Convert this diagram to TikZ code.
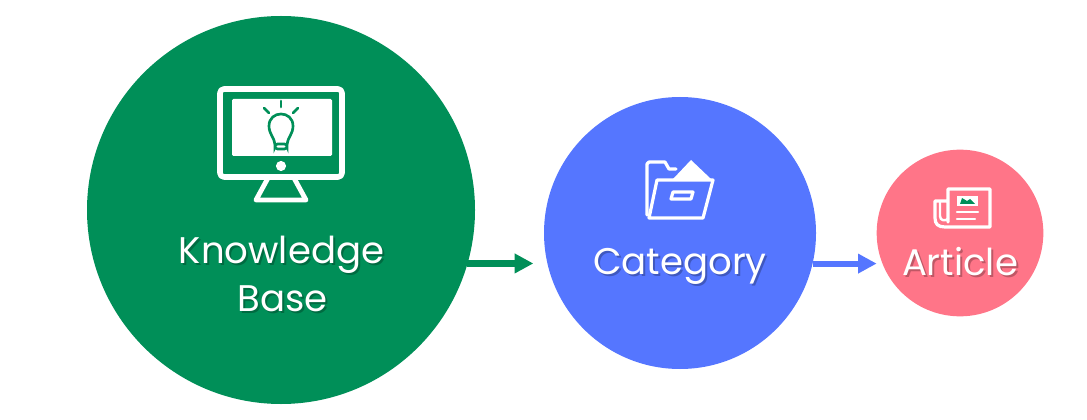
\documentclass[tikz,border=0pt]{standalone}
\usepackage{fontspec}
\setmainfont{Poppins}
\usepackage{xcolor}
\usetikzlibrary{arrows.meta}
\definecolor{kbgreen}{HTML}{008F58}
\definecolor{catblue}{HTML}{5576FF}
\definecolor{artpink}{HTML}{FF7588}
\tikzset{
 blob/.style={circle, inner sep=0pt, outer sep=0pt},
 label/.style={text=white, font=\fontsize{27.8}{28}\selectfont, inner sep=0pt, anchor=base},
 labelshade/.style={text=black, opacity=.25, font=\fontsize{27.8}{28}\selectfont, inner sep=0pt, anchor=base},
 flow/.style={line width=4.6pt, -{Triangle[length=14pt,width=14pt]}},
 icon/.style={draw=white, line width=4.2pt, line join=round},
 thinicon/.style={draw=white, line width=2.4pt, line join=round, line cap=round},
}
\begin{document}
\begin{tikzpicture}[x=.75pt, y=-.75pt]
\useasboundingbox (0,0) rectangle (1087,420);

\node(kb)[blob, fill=kbgreen, minimum size=291pt] at (281,210) {};
\node(cat)[blob, fill=catblue, minimum size=204pt] at (680,233) {};
\node(art)[blob, fill=artpink, minimum size=125pt] at (960,233) {};

\draw[flow, kbgreen] (kb.-16.1) -- ([xshift=-8pt]kb.-16.1 -| cat.west);
\draw[flow, catblue] (cat.-13.2) -- (cat.-13.2 -| art.west);

% monitor
\draw[icon, rounded corners=3pt] (220,89) rectangle (342,177);
\fill[white, rounded corners=1pt] (232,99) rectangle (332,156);
\fill[white] (281,166) circle (3.8pt);
\draw[icon, line width=3.6pt] (268,178) -- (256,200) -- (306,200) -- (294,178);
% bulb
\draw[kbgreen, line width=2pt, line cap=round, line join=round] (275,144) .. controls (274,137) and (269,134) .. (269,126) .. controls (269,110) and (293,110) .. (293,126) .. controls (293,134) and (288,137) .. (287,144);
\draw[kbgreen, line width=2pt, rounded corners=2pt] (275,144) rectangle (287,149);
\draw[kbgreen, line width=2pt, line cap=round] (281,101) -- (281,107);
\draw[kbgreen, line width=2pt, line cap=round] (264,108) -- (269,113);
\draw[kbgreen, line width=2pt, line cap=round] (298,108) -- (293,113);

% folder
\fill[white] (673,179) -- (691,160) -- (711,179) -- cycle;
\draw[thinicon] (647,215) -- (647,164) -- (649,162) -- (665,162) -- (669,169) -- (676,169);
\draw[thinicon] (657,180) -- (713,180) -- (703,218) -- (649,218) -- cycle;
\draw[thinicon] (673,192) -- (693,192) -- (691,199) -- (671,199) -- cycle;

% newspaper
\draw[thinicon] (948,222) -- (948,189) -- (990,189) -- (990,227) -- (945,227) .. controls (938,227) and (935,224) .. (935,218) -- (935,201) -- (948,201);
\draw[thinicon, line width=1.8pt] (940,201) -- (940,216) .. controls (940,221) and (945,221) .. (948,219);
\fill[white] (957,196) rectangle (978,206);
\fill[kbgreen] (960,204) -- (962,198) -- (967,201) -- (970,199) -- (975,204) -- cycle;
\draw[thinicon, line width=1.8pt] (957,212) -- (978,212);
\draw[thinicon, line width=1.8pt] (957,219) -- (975,219);

% labels
\node(kbshade1)[labelshade] at (283.5,265) {Knowledge};
\node(kbshade2)[labelshade] at (284.5,313) {Base};
\node(catshade)[labelshade] at (682,276) {Category};
\node(artshade)[labelshade] at (962,277) {Article};
\node(kbtext1)[label] at (281.5,263) {Knowledge};
\node(kbtext2)[label] at (282.5,311) {Base};
\node(cattext)[label] at (680,274) {Category};
\node(arttext)[label] at (960,275) {Article};
\end{tikzpicture}
\end{document}
